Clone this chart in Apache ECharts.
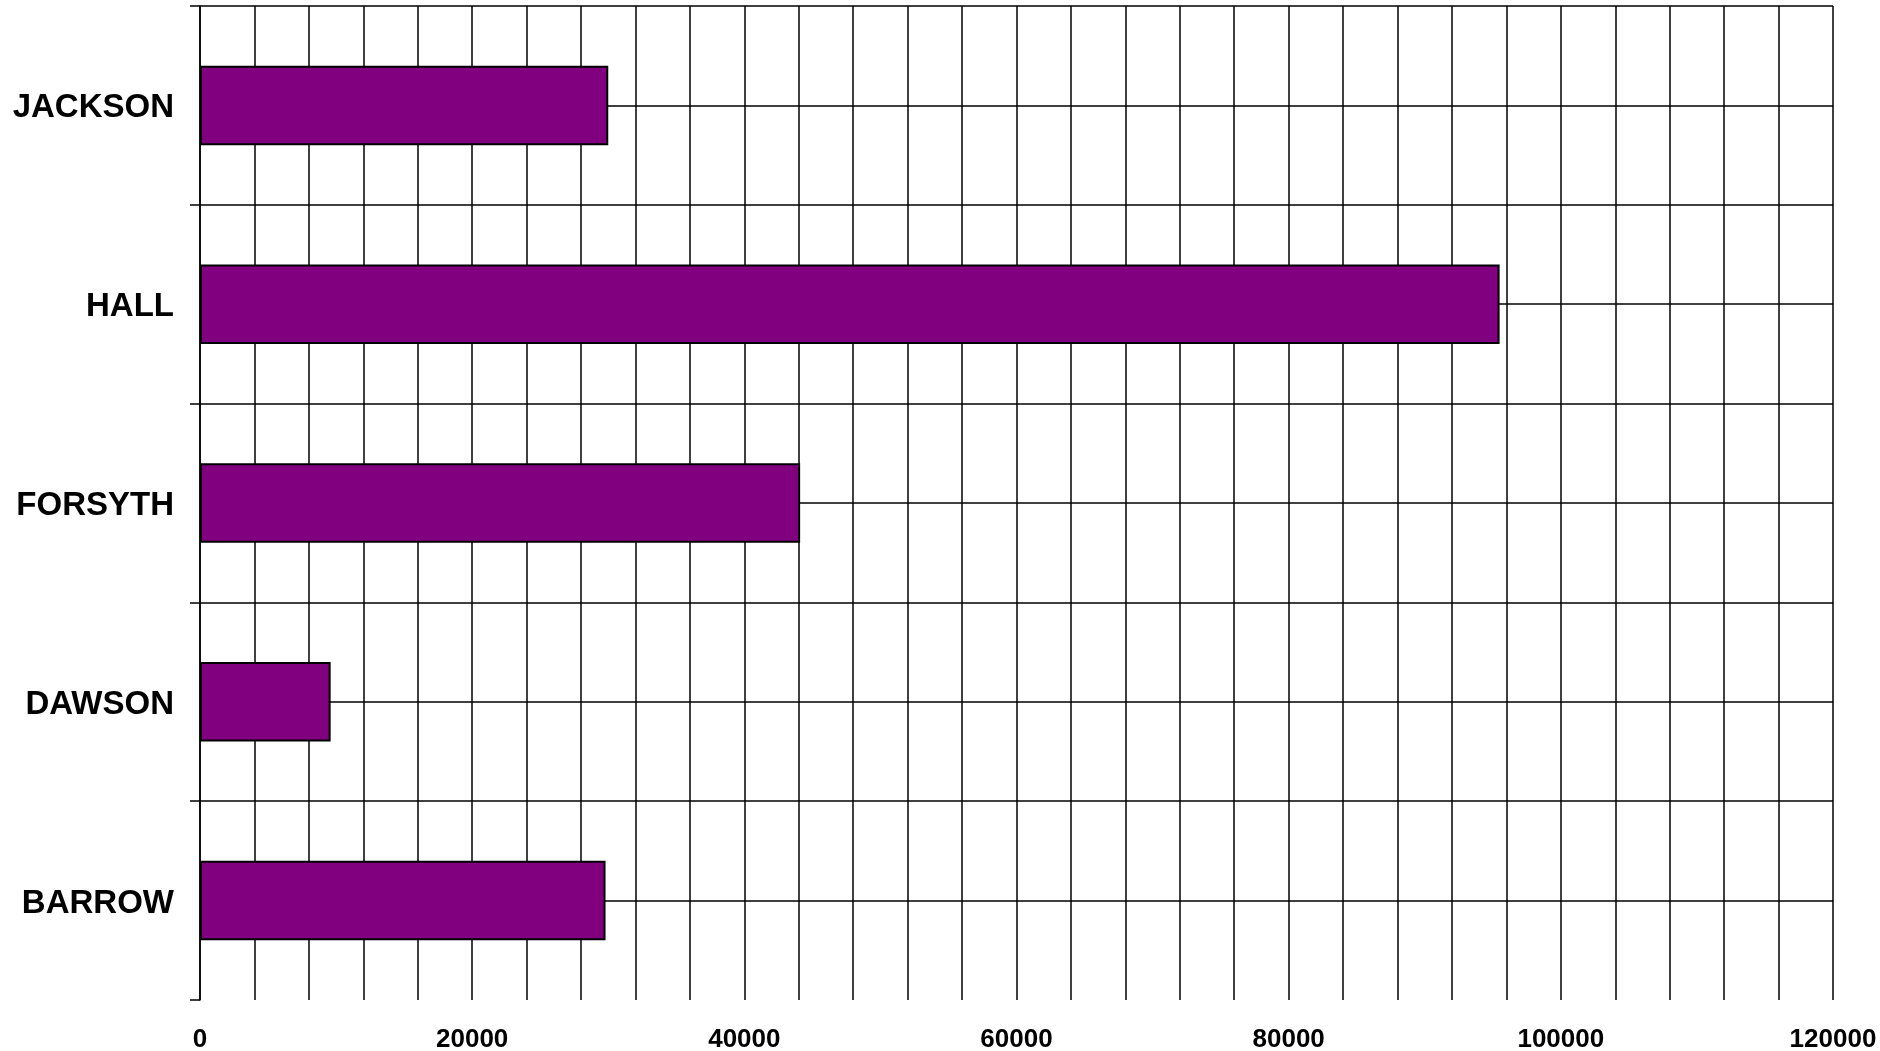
<!DOCTYPE html>
<html>
<head>
<meta charset="utf-8">
<script src="https://cdn.jsdelivr.net/npm/echarts@6/dist/echarts.min.js"></script>
<style>
html,body{margin:0;padding:0;background:#fff;}
#chart{width:1880px;height:1051px;}
</style>
</head>
<body>
<div id="chart"></div>
<script>
// Categories listed bottom to top
const categories = ['BARROW', 'DAWSON', 'FORSYTH', 'HALL', 'JACKSON'];
const values = [29800, 9600, 44100, 95500, 30000];
const xTickLabels = ['0', '20000', '40000', '60000', '80000', '100000', '120000'];

const chart = echarts.init(document.getElementById('chart'));
const FONT = '"Liberation Sans", Arial, sans-serif';
const hLineColors = ['rgba(0,0,0,0)'];
for (let i = 0; i < 10; i++) hLineColors.push('#000');

chart.setOption({
  animation: false,
  backgroundColor: '#fff',
  grid: { left: 200, right: 47, top: 6, bottom: 51, containLabel: false, outerBoundsMode: 'none' },
  xAxis: {
    type: 'value',
    min: 0,
    max: 120000,
    interval: 4000,
    axisLine: { show: false },
    axisTick: { show: false },
    splitLine: { show: true, lineStyle: { color: '#000', width: 1.5 } },
    axisLabel: {
      showMinLabel: true,
      showMaxLabel: true,
      margin: 27,
      color: '#000',
      fontFamily: FONT,
      fontWeight: 'bold',
      fontSize: 26,
      formatter: function (v) {
        const s = String(v);
        return xTickLabels.indexOf(s) >= 0 ? s : '';
      }
    }
  },
  yAxis: [
    {
      type: 'category',
      data: categories,
      axisLine: { show: true, lineStyle: { color: '#000', width: 1.5 } },
      axisTick: { show: true, length: 10, lineStyle: { color: '#000', width: 1.5 } },
      splitLine: { show: false },
      axisLabel: {
        margin: 26,
        color: '#000',
        fontFamily: FONT,
        fontWeight: 'bold',
        fontSize: 33,
        formatter: function (v) { return '{a|' + v + '}'; },
        rich: {
          a: {
            color: '#000',
            fontFamily: FONT,
            fontWeight: 'bold',
            fontSize: 33,
            padding: [6, 0, 0, 0]
          }
        }
      }
    },
    {
      type: 'value',
      min: 0,
      max: 10,
      interval: 1,
      position: 'left',
      axisLine: { show: false },
      axisTick: { show: false },
      axisLabel: { show: false },
      splitLine: { show: true, lineStyle: { color: hLineColors, width: 1.5 } }
    }
  ],
  series: [{
    type: 'bar',
    yAxisIndex: 0,
    data: values,
    barWidth: '40%',
    itemStyle: { color: '#800080', borderColor: '#000', borderWidth: 2 }
  }]
});
</script>
</body>
</html>
